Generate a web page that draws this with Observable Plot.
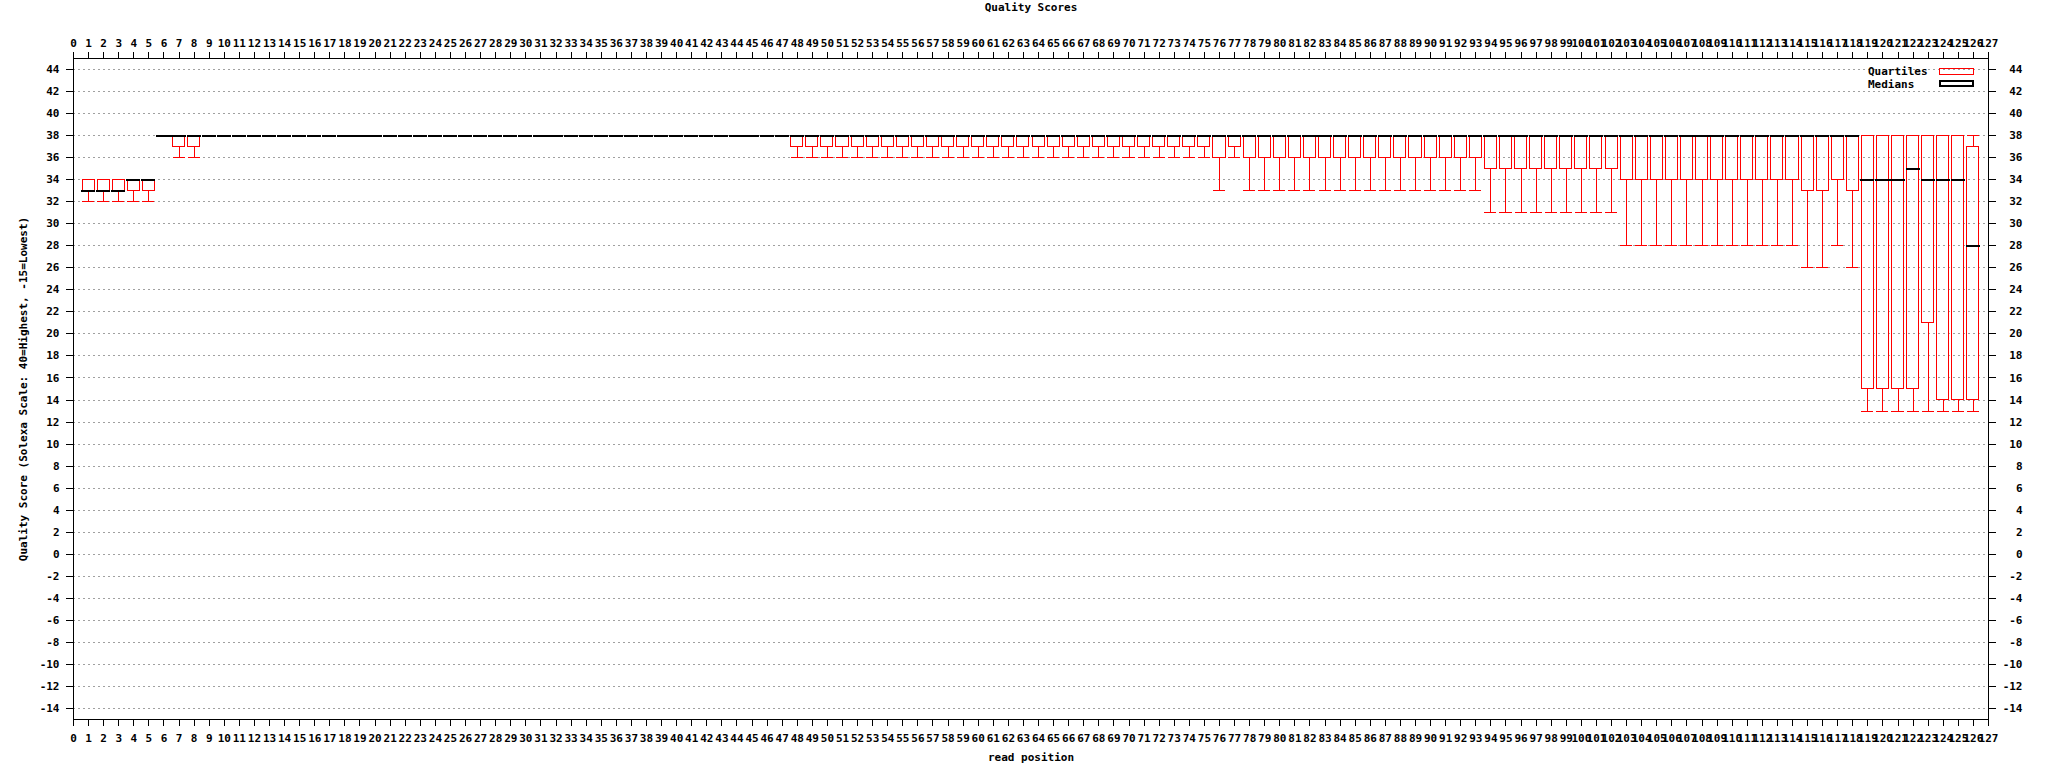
<!DOCTYPE html>
<html><head><meta charset="utf-8">
<script src="https://cdn.jsdelivr.net/npm/d3@7"></script>
<script src="https://cdn.jsdelivr.net/npm/@observablehq/plot@0.6"></script>
<style>
body{margin:0;background:#fff;}
#wrap{position:relative;width:2048px;height:768px;overflow:hidden;}
#wrap svg line, #wrap svg rect, #wrap svg path{shape-rendering:crispEdges;}
.lg{position:absolute;font:bold 11px "DejaVu Sans Mono", monospace;color:#000;white-space:nowrap;line-height:11px;}
.sw{position:absolute;box-sizing:border-box;}
</style></head><body>
<div id="wrap"></div>
<script>
// read positions 1..126
const positions = [
  1,2,3,4,5,6,7,8,9,10,
  11,12,13,14,15,16,17,18,19,20,
  21,22,23,24,25,26,27,28,29,30,
  31,32,33,34,35,36,37,38,39,40,
  41,42,43,44,45,46,47,48,49,50,
  51,52,53,54,55,56,57,58,59,60,
  61,62,63,64,65,66,67,68,69,70,
  71,72,73,74,75,76,77,78,79,80,
  81,82,83,84,85,86,87,88,89,90,
  91,92,93,94,95,96,97,98,99,100,
  101,102,103,104,105,106,107,108,109,110,
  111,112,113,114,115,116,117,118,119,120,
  121,122,123,124,125,126
];
const whiskerLow = [
  32,32,32,32,32,38,36,36,38,38,
  38,38,38,38,38,38,38,38,38,38,
  38,38,38,38,38,38,38,38,38,38,
  38,38,38,38,38,38,38,38,38,38,
  38,38,38,38,38,38,38,36,36,36,
  36,36,36,36,36,36,36,36,36,36,
  36,36,36,36,36,36,36,36,36,36,
  36,36,36,36,36,33,36,33,33,33,
  33,33,33,33,33,33,33,33,33,33,
  33,33,33,31,31,31,31,31,31,31,
  31,31,28,28,28,28,28,28,28,28,
  28,28,28,28,26,26,28,26,13,13,
  13,13,13,13,13,13
];
const quartile1 = [
  33,33,33,33,33,38,37,37,38,38,
  38,38,38,38,38,38,38,38,38,38,
  38,38,38,38,38,38,38,38,38,38,
  38,38,38,38,38,38,38,38,38,38,
  38,38,38,38,38,38,38,37,37,37,
  37,37,37,37,37,37,37,37,37,37,
  37,37,37,37,37,37,37,37,37,37,
  37,37,37,37,37,36,37,36,36,36,
  36,36,36,36,36,36,36,36,36,36,
  36,36,36,35,35,35,35,35,35,35,
  35,35,34,34,34,34,34,34,34,34,
  34,34,34,34,33,33,34,33,15,15,
  15,15,21,14,14,14
];
const medians = [
  33,33,33,34,34,38,38,38,38,38,
  38,38,38,38,38,38,38,38,38,38,
  38,38,38,38,38,38,38,38,38,38,
  38,38,38,38,38,38,38,38,38,38,
  38,38,38,38,38,38,38,38,38,38,
  38,38,38,38,38,38,38,38,38,38,
  38,38,38,38,38,38,38,38,38,38,
  38,38,38,38,38,38,38,38,38,38,
  38,38,38,38,38,38,38,38,38,38,
  38,38,38,38,38,38,38,38,38,38,
  38,38,38,38,38,38,38,38,38,38,
  38,38,38,38,38,38,38,38,34,34,
  34,35,34,34,34,28
];
const quartile3 = [
  34,34,34,34,34,38,38,38,38,38,
  38,38,38,38,38,38,38,38,38,38,
  38,38,38,38,38,38,38,38,38,38,
  38,38,38,38,38,38,38,38,38,38,
  38,38,38,38,38,38,38,38,38,38,
  38,38,38,38,38,38,38,38,38,38,
  38,38,38,38,38,38,38,38,38,38,
  38,38,38,38,38,38,38,38,38,38,
  38,38,38,38,38,38,38,38,38,38,
  38,38,38,38,38,38,38,38,38,38,
  38,38,38,38,38,38,38,38,38,38,
  38,38,38,38,38,38,38,38,38,38,
  38,38,38,38,38,37
];
const whiskerHigh = [
  34,34,34,34,34,38,38,38,38,38,
  38,38,38,38,38,38,38,38,38,38,
  38,38,38,38,38,38,38,38,38,38,
  38,38,38,38,38,38,38,38,38,38,
  38,38,38,38,38,38,38,38,38,38,
  38,38,38,38,38,38,38,38,38,38,
  38,38,38,38,38,38,38,38,38,38,
  38,38,38,38,38,38,38,38,38,38,
  38,38,38,38,38,38,38,38,38,38,
  38,38,38,38,38,38,38,38,38,38,
  38,38,38,38,38,38,38,38,38,38,
  38,38,38,38,38,38,38,38,38,38,
  38,38,38,38,38,38
];
const xTicks = d3.range(0, 128);
const yTicks = d3.range(-14, 45, 2);
const titleText = "Quality Scores";
const xLabel = "read position";
const yLabel = "Quality Score (Solexa Scale: 40=Highest, -15=Lowest)";
const legendLabels = ["Quartiles", "Medians"];

const data = positions.map((p, i) => ({
  pos: p, low: whiskerLow[i], q1: quartile1[i], med: medians[i], q3: quartile3[i], high: whiskerHigh[i]
}));
const boxes = data.filter(d => d.q3 > d.q1);
const lowW = data.filter(d => d.q1 > d.low);
const highW = data.filter(d => d.high > d.q3);
const HW = 0.4;   // half box width in read positions
const MW = 0.47;  // half median width

const chart = Plot.plot({
  width: 2048,
  height: 768,
  marginTop: 58,
  marginBottom: 49,
  marginLeft: 73,
  marginRight: 60,
  x: {domain: [0, 127]},
  y: {domain: [-15, 45]},
  style: {fontFamily: '"DejaVu Sans Mono", monospace', fontSize: "11px", fontWeight: "bold", background: "#fff", color: "#000"},
  marks: [
    Plot.gridY(yTicks, {stroke: "#a0a0a0", strokeOpacity: 1, strokeDasharray: "2,3"}),
    Plot.axisX(xTicks, {anchor: "top", tickSize: 7, tickPadding: 5, label: null, tickFormat: d => String(d)}),
    Plot.axisX(xTicks, {anchor: "bottom", tickSize: 7, tickPadding: 8, label: null, tickFormat: d => String(d)}),
    Plot.axisY(yTicks, {anchor: "left", tickSize: 7, tickPadding: 7, label: null, tickFormat: d => String(d)}),
    Plot.axisY(yTicks, {anchor: "right", tickSize: 7, tickPadding: 27, textAnchor: "end", label: null, tickFormat: d => String(d)}),
    Plot.frame({stroke: "#000"}),
    Plot.ruleX(lowW, {x: "pos", y1: "low", y2: "q1", stroke: "#ff0000"}),
    Plot.ruleX(highW, {x: "pos", y1: "q3", y2: "high", stroke: "#ff0000"}),
    Plot.ruleY(boxes, {y: "low", x1: d => d.pos - HW, x2: d => d.pos + HW, stroke: "#ff0000"}),
    Plot.ruleY(boxes, {y: "high", x1: d => d.pos - HW, x2: d => d.pos + HW, stroke: "#ff0000"}),
    Plot.rect(boxes, {x1: d => d.pos - HW, x2: d => d.pos + HW, y1: "q1", y2: "q3", stroke: "#ff0000", fill: "none"}),
    Plot.ruleY(data, {y: "med", x1: d => d.pos - MW, x2: d => d.pos + MW, stroke: "#000", strokeWidth: 2}),
    Plot.text([titleText], {frameAnchor: "top", dy: -51, lineAnchor: "middle", fill: "#000"}),
    Plot.text([xLabel], {frameAnchor: "bottom", dy: 38, lineAnchor: "middle", fill: "#000"}),
    Plot.text([yLabel], {frameAnchor: "left", rotate: -90, dx: -50, textAnchor: "middle", lineAnchor: "middle", fill: "#000"})
  ]
});
const wrap = document.getElementById("wrap");
wrap.appendChild(chart);

// legend (top right, inside frame)
function addLegend(label, top, swTop, swH, border) {
  const t = document.createElement("div");
  t.className = "lg";
  t.style.left = "1868px";
  t.style.top = top + "px";
  t.textContent = label;
  wrap.appendChild(t);
  const s = document.createElement("div");
  s.className = "sw";
  s.style.left = "1939px";
  s.style.top = swTop + "px";
  s.style.width = "35px";
  s.style.height = swH + "px";
  s.style.border = border;
  wrap.appendChild(s);
}
addLegend(legendLabels[0], 66, 68, 7, "1px solid #ff0000");
addLegend(legendLabels[1], 79, 80, 7, "2px solid #000");
</script>
</body></html>
